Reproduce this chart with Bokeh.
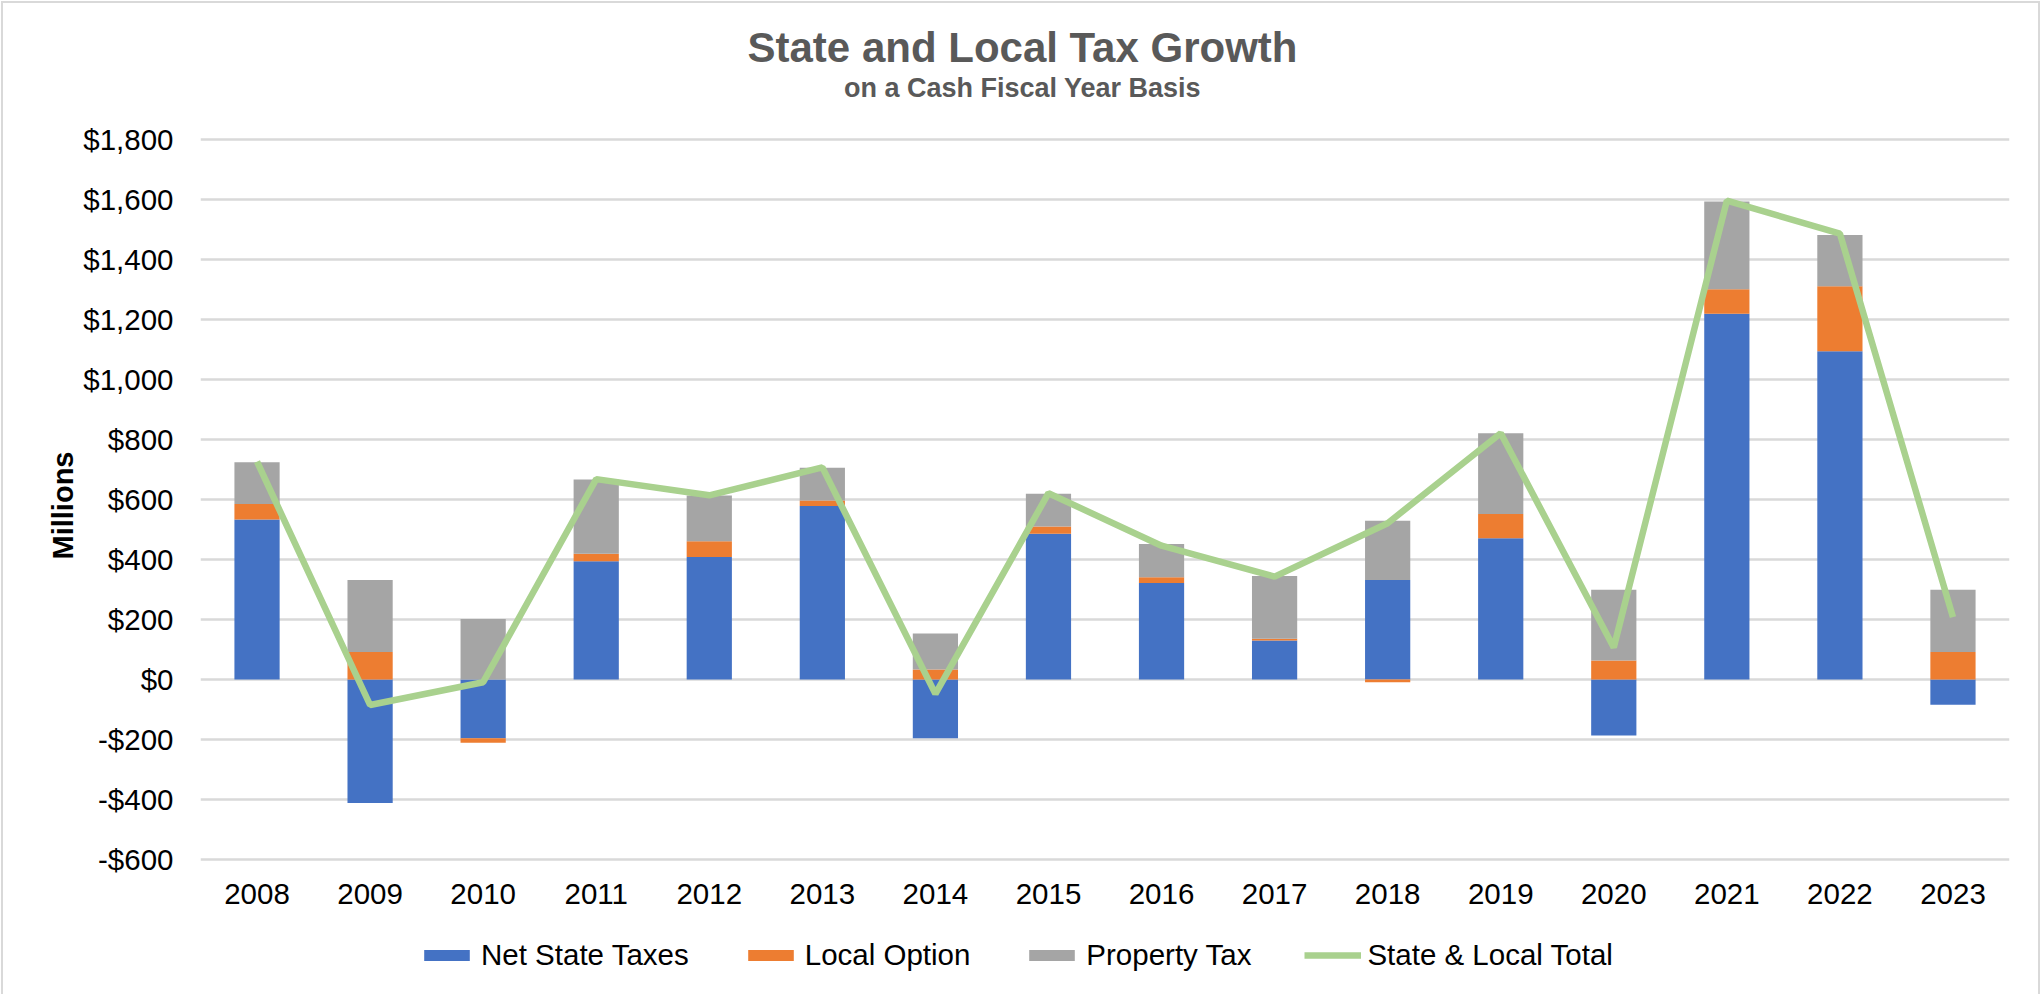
from bokeh.plotting import figure
from bokeh.models import (FactorRange, Range1d, FixedTicker, Legend, LegendItem,
                          Label, ColumnDataSource)
from bokeh.core.properties import value
from bokeh.embed import file_html
from bokeh.resources import INLINE

# ---------------- data (millions of dollars) ----------------
years = ["2008", "2009", "2010", "2011", "2012", "2013", "2014", "2015",
         "2016", "2017", "2018", "2019", "2020", "2021", "2022", "2023"]
net_state_taxes = [533, -412, -196, 394, 408, 578, -196, 486,
                   322, 130, 332, 471, -187, 1219, 1094, -84]
local_option = [52, 92, -15, 25, 53, 19, 33, 24,
                19, 6, -9, 81, 63, 82, 217, 92]
property_tax = [139, 240, 202, 248, 152, 109, 120, 109,
                111, 209, 197, 269, 236, 292, 171, 207]
state_local_total = [726, -85, -9, 668, 614, 707, -48, 621,
                     446, 343, 521, 821, 107, 1596, 1486, 208]

y_ticks = [-600, -400, -200, 0, 200, 400, 600, 800, 1000, 1200, 1400, 1600, 1800]
y_tick_labels = ["-$600", "-$400", "-$200", "$0", "$200", "$400", "$600", "$800",
                 "$1,000", "$1,200", "$1,400", "$1,600", "$1,800"]

series_names = ["Net State Taxes", "Local Option", "Property Tax"]
series_values = [net_state_taxes, local_option, property_tax]
series_colors = ["#4472C4", "#ED7D31", "#A5A5A5"]
line_name = "State & Local Total"
line_color = "#A9D18E"

title_text = "State and Local Tax Growth"
subtitle_text = "on a Cash Fiscal Year Basis"
y_axis_title = "Millions"

# ---------------- layout (pixels of the 2041x994 page) ----------------
PAGE_M = 5                      # figure offset inside the page (room for the outer border)
W, H = 2041 - 2 * PAGE_M, 994 - PAGE_M
AREA_L, AREA_R = 200, 2009      # plot area left/right (page px)
AREA_T, AREA_B = 139, 859       # plot area top/bottom (page px) -> 1800 / -600
FRAME_T, FRAME_B = 21, 989      # drawing frame extends above/below the plot area
Y_TOP_VAL, Y_BOT_VAL = 1800, -600
unit_px = (AREA_B - AREA_T) / (Y_TOP_VAL - Y_BOT_VAL)
y_start = Y_BOT_VAL - (FRAME_B - AREA_B) / unit_px
y_end = Y_TOP_VAL + (AREA_T - FRAME_T) / unit_px

BL = AREA_L - PAGE_M
BR = W - (AREA_R - PAGE_M)
BT = FRAME_T - PAGE_M
BB = H - (FRAME_B - PAGE_M)

FONT = "Liberation Sans"
TICK_SIZE = "29.5px"

p = figure(x_range=FactorRange(factors=years, range_padding=0),
           y_range=Range1d(y_start, y_end), title=None, x_axis_location=None,
           width=W, height=H, output_backend="svg", toolbar_location=None,
           min_border_left=BL, min_border_right=BR,
           min_border_top=BT, min_border_bottom=BB)
p.styles = {"margin": f"{PAGE_M}px {PAGE_M}px 0px {PAGE_M}px",
            "outline": "2px solid #d9d9d9", "outline-offset": "2px"}

p.outline_line_color = None
p.background_fill_color = "white"
p.border_fill_color = "white"

n = len(years)
cat_px = (AREA_R - AREA_L) / n

def xd(px):
    return (px - AREA_L) / cat_px

def yd(px):
    return Y_TOP_VAL - (px - AREA_T) / unit_px

# grid
p.xgrid.grid_line_color = None
p.ygrid.grid_line_color = "#d9d9d9"
p.ygrid.grid_line_width = 2.5
p.ygrid.ticker = FixedTicker(ticks=y_ticks)

# y axis
yax = p.yaxis[0]
yax.ticker = FixedTicker(ticks=y_ticks)
yax.major_label_overrides = {t: l for t, l in zip(y_ticks, y_tick_labels)}
yax.axis_line_color = None
yax.major_tick_line_color = None
yax.minor_tick_line_color = None
yax.major_tick_out = 0
yax.major_tick_in = 0
yax.major_label_text_font = FONT
yax.major_label_text_font_size = TICK_SIZE
yax.major_label_text_color = "#000000"
yax.major_label_standoff = 27
yax.axis_label = y_axis_title
yax.axis_label_text_font = FONT
yax.axis_label_text_font_size = "29px"
yax.axis_label_text_font_style = "bold"
yax.axis_label_text_color = "#000000"
yax.axis_label_standoff = 1

# stacked bars: positives stack up, negatives stack down
pos_base = [0.0] * n
neg_base = [0.0] * n
bar_renderers = []
for name, vals, col in zip(series_names, series_values, series_colors):
    bottoms, tops = [], []
    for i, v in enumerate(vals):
        if v >= 0:
            b = pos_base[i]
            t = b + v
            pos_base[i] = t
        else:
            b = neg_base[i]
            t = b + v
            neg_base[i] = t
        bottoms.append(b)
        tops.append(t)
    src = ColumnDataSource(dict(x=years, bottom=bottoms, top=tops))
    r = p.vbar(x="x", bottom="bottom", top="top", width=0.4, source=src,
               fill_color=col, line_color=None)
    bar_renderers.append(r)

line_r = p.line(x=years, y=state_local_total, line_width=6.5, line_color=line_color)

# category (year) labels under the plot area
p.text(x=years, y=[yd(893)] * n, text=years, text_align="center",
       text_baseline="middle", text_font=value(FONT), text_font_size=TICK_SIZE,
       text_color="#000000")

# legend
items = [LegendItem(label=nm, renderers=[r]) for nm, r in zip(series_names, bar_renderers)]
items.append(LegendItem(label=line_name, renderers=[line_r]))
legend = Legend(items=items, orientation="horizontal",
                location=(418 - AREA_L, 17),
                glyph_width=57, glyph_height=14, label_standoff=6, spacing=53,
                padding=0, margin=0, border_line_color=None,
                background_fill_alpha=0, label_text_font=FONT,
                label_text_font_size=TICK_SIZE, label_text_color="#000000",
                label_text_baseline="middle")
p.add_layout(legend, "center")

# titles
p.add_layout(Label(x=xd(1022), y=yd(47), text=title_text, text_align="center",
                   text_baseline="middle", text_font=FONT, text_font_size="42px",
                   text_font_style="bold", text_color="#595959"))
p.add_layout(Label(x=xd(1022), y=yd(87), text=subtitle_text, text_align="center",
                   text_baseline="middle", text_font=FONT, text_font_size="27px",
                   text_font_style="bold", text_color="#595959"))

open("out.html", "w").write(file_html(p, INLINE))
